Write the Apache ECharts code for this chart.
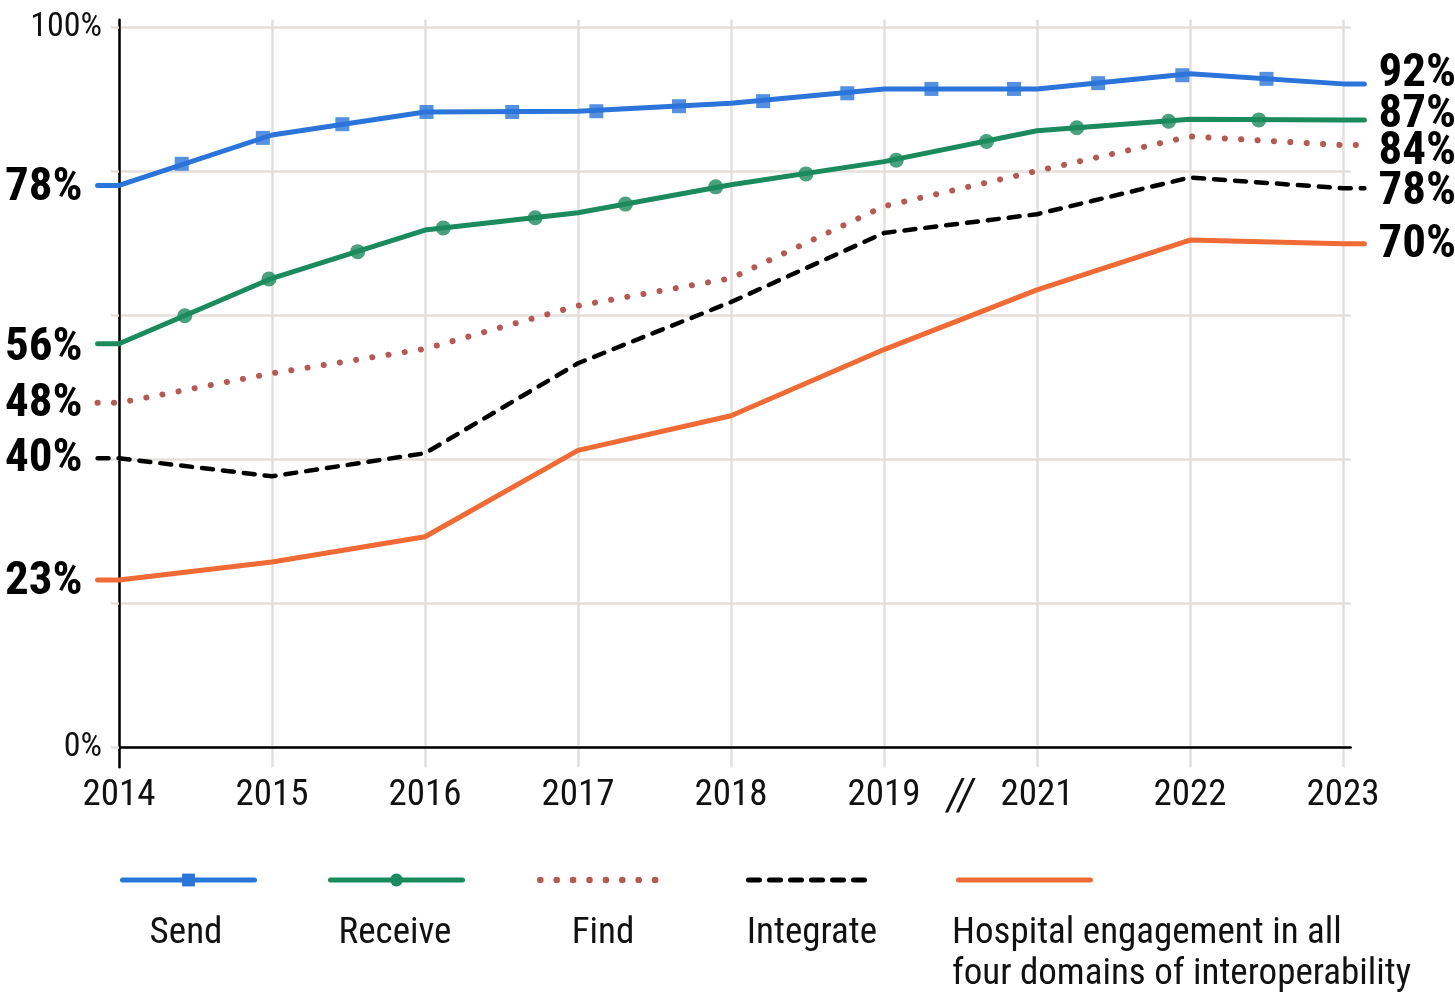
<!DOCTYPE html>
<html>
<head>
<meta charset="utf-8">
<title>Hospital interoperability, 2014-2023</title>
<script src="https://cdn.jsdelivr.net/npm/echarts@6/dist/echarts.min.js"></script>
<style>
  html, body { margin: 0; padding: 0; background: #fff; }
  #chart { width: 1455px; height: 996px; }
</style>
</head>
<body>
<div id="chart"></div>
<script>
// year slots on the x axis (2020 is skipped in the source)
const years = ['2014', '2015', '2016', '2017', '2018', '2019', '2021', '2022', '2023'];

// percent of hospitals, one value per year slot
const sendValues      = [78.0, 85.0, 88.2, 88.3, 89.4, 91.4, 91.4, 93.5, 92.1];
const receiveValues   = [56.0, 65.1, 71.8, 74.2, 78.1, 81.3, 85.6, 87.2, 87.1];
const findValues      = [47.8, 51.9, 55.3, 61.3, 65.1, 75.1, 80.0, 84.8, 83.6];
const integrateValues = [40.1, 37.6, 40.8, 53.3, 61.8, 71.4, 74.0, 79.1, 77.6];
const hospitalValues  = [23.2, 25.7, 29.2, 41.2, 46.0, 55.2, 63.5, 70.4, 69.9];

// marker positions: [year slot, percent]
const sendMarkers = [
  [0.41, 81.0], [0.94, 84.6], [1.46, 86.5], [2.01, 88.2], [2.57, 88.2], [3.12, 88.3], [3.66, 89.0],
  [4.21, 89.7], [4.76, 90.8], [5.31, 91.4], [5.85, 91.4], [6.40, 92.2], [6.95, 93.3], [7.50, 92.8]
];
const receiveMarkers = [
  [0.43, 59.9], [0.98, 65.0], [1.56, 68.8], [2.12, 72.1], [2.72, 73.5], [3.31, 75.4], [3.90, 77.8],
  [4.49, 79.6], [5.08, 81.5], [5.67, 84.1], [6.26, 86.0], [6.86, 86.9], [7.45, 87.1]
];

const yGridTicks = [0, 20, 40, 60, 80, 100];
const yTickLabels = [0, 100];

// ---- layout / style ----
const COND = "'Roboto Condensed', 'Open Sans Condensed', sans-serif";
const GRID_GRAY = '#e3dfdc';
const X0 = 119, U = 153;        // pixel of 2014, px per year slot
const Y0 = 747, PY = 7.2;       // pixel of 0%, px per percent
const STUB = 0.14;              // little flat ends on both sides of each line
const gridTop = Y0 - 101 * PY;
const gridBottom = 996 - (Y0 + 2.8 * PY);

const toLine = vals => [[-STUB, vals[0]]]
  .concat(vals.map((v, i) => [i, v]))
  .concat([[vals.length - 1 + STUB, vals[vals.length - 1]]]);

const lines = [
  { name: 'Send', values: sendValues, color: '#2b74d9', width: 5, type: 'solid', symbol: 'rect', startDy: 3, endDy: -10 },
  { name: 'Receive', values: receiveValues, color: '#1b8a5c', width: 5, type: 'solid', symbol: 'circle', startDy: 4, endDy: -5 },
  { name: 'Find', values: findValues, color: '#b55a52', width: 6, type: [0.1, 16.3], symbol: 'circle', startDy: 1, endDy: 7 },
  { name: 'Integrate', values: integrateValues, color: '#000000', width: 4.5, type: [11, 10], symbol: 'circle', startDy: 1, endDy: 4 },
  { name: 'Hospital engagement in all four domains of interoperability', values: hospitalValues, color: '#ef6a34', width: 5, type: 'solid', symbol: 'circle', startDy: 2, endDy: 2 }
];

const bigLabel = { color: '#000', fontFamily: COND, fontWeight: 'bold', fontSize: 47 };

const series = lines.map((l, k) => ({
  type: 'line',
  name: l.name,
  xAxisIndex: 1,
  yAxisIndex: 1,
  data: toLine(l.values),
  symbol: l.symbol,
  symbolSize: 0,
  showSymbol: true,
  showAllSymbol: true,
  lineStyle: { color: l.color, width: l.width, type: l.type, cap: 'round', join: 'round' },
  itemStyle: { color: l.color },
  label: Object.assign({
    show: true,
    position: 'left',
    distance: 15,
    offset: [0, l.startDy],
    formatter: p => p.dataIndex === 0 ? Math.round(p.value[1]) + '%' : ''
  }, bigLabel),
  endLabel: Object.assign({
    show: true,
    distance: 14,
    offset: [0, l.endDy],
    formatter: p => Math.round(p.value[1]) + '%'
  }, bigLabel),
  emphasis: { disabled: true },
  z: 10 - k
}));

series.push({
  type: 'scatter', name: 'Send markers', xAxisIndex: 1, yAxisIndex: 1,
  data: sendMarkers, symbol: 'rect', symbolSize: 14,
  itemStyle: { color: lines[0].color }, silent: true, z: 12
});
series.push({
  type: 'scatter', name: 'Receive markers', xAxisIndex: 1, yAxisIndex: 1,
  data: receiveMarkers, symbol: 'circle', symbolSize: 15,
  itemStyle: { color: lines[1].color }, silent: true, z: 12
});

// legend: icons from the series, texts centred underneath
const legendSlots = [
  { left: 120, width: 132, lineWidth: 5, mark: true, textX: 186 },
  { left: 328, width: 132, lineWidth: 5, mark: true, textX: 395 },
  { left: 537, width: 122, lineWidth: 6.5, mark: false, textX: 603 },
  { left: 746, width: 122, lineWidth: 5, mark: false, textX: 812 },
  { left: 956, width: 132, lineWidth: 5, mark: false, textX: 952 }
];
const legendTexts = ['Send', 'Receive', 'Find', 'Integrate', 'Hospital engagement in all\nfour domains of interoperability'];

const legend = legendSlots.map((s, i) => ({
  data: [{ name: lines[i].name, itemStyle: s.mark ? {} : { opacity: 0 } }],
  left: s.left,
  top: 872,
  padding: 0,
  itemWidth: s.width,
  itemHeight: 16,
  selectedMode: false,
  formatter: () => '',
  lineStyle: { width: s.lineWidth }
}));

const legendFont = { fill: '#111', fontFamily: COND, fontSize: 37, lineHeight: 41 };
const graphic = legendTexts.map((t, i) => ({
  type: 'text',
  x: legendSlots[i].textX,
  y: i === 4 ? 913 : 934,
  silent: true,
  style: Object.assign({
    text: t,
    align: i === 4 ? 'left' : 'center',
    verticalAlign: i === 4 ? 'top' : 'middle'
  }, legendFont)
}));

const chart = echarts.init(document.getElementById('chart'));
chart.setOption({
  animation: false,
  backgroundColor: '#fff',
  grid: [
    { left: X0, right: 1455 - (X0 + 8.05 * U), top: gridTop, bottom: gridBottom, outerBoundsMode: 'none' },
    { left: X0 - 0.15 * U, right: 1455 - (X0 + 8.15 * U), top: gridTop, bottom: gridBottom, outerBoundsMode: 'none' }
  ],
  xAxis: [
    {
      type: 'value', gridIndex: 0, min: 0, max: 8.05,
      axisLine: { onZero: true, lineStyle: { color: '#000', width: 2.5 } },
      axisTick: { show: false, customValues: years.map((_, i) => i) },
      splitLine: { show: true, lineStyle: { color: GRID_GRAY, width: 2.5 } },
      axisLabel: {
        customValues: [0, 1, 2, 3, 4, 5, 5.5, 6, 7, 8],
        formatter: v => Number.isInteger(v) ? years[v] : '{brk|//}',
        rich: { brk: { fontFamily: COND, fontSize: 44, fontStyle: 'italic', color: '#111' } },
        margin: 10,
        color: '#111', fontFamily: COND, fontSize: 37
      }
    },
    { type: 'value', gridIndex: 1, min: -0.15, max: 8.15, show: false, splitLine: { show: false } }
  ],
  yAxis: [
    {
      type: 'value', gridIndex: 0, min: -2.8, max: 101,
      axisLine: { show: true, onZero: true, lineStyle: { color: '#000', width: 2.5 } },
      axisTick: { show: true, length: 8, customValues: yGridTicks, lineStyle: { color: GRID_GRAY, width: 2.5 } },
      splitLine: { show: true, lineStyle: { color: GRID_GRAY, width: 2.5 } },
      axisLabel: {
        customValues: yTickLabels,
        formatter: v => v + '%',
        margin: 17,
        color: '#111', fontFamily: COND, fontSize: 34
      }
    },
    { type: 'value', gridIndex: 1, min: -2.8, max: 101, show: false, splitLine: { show: false } }
  ],
  legend: legend,
  graphic: graphic,
  series: series
});
</script>
</body>
</html>
